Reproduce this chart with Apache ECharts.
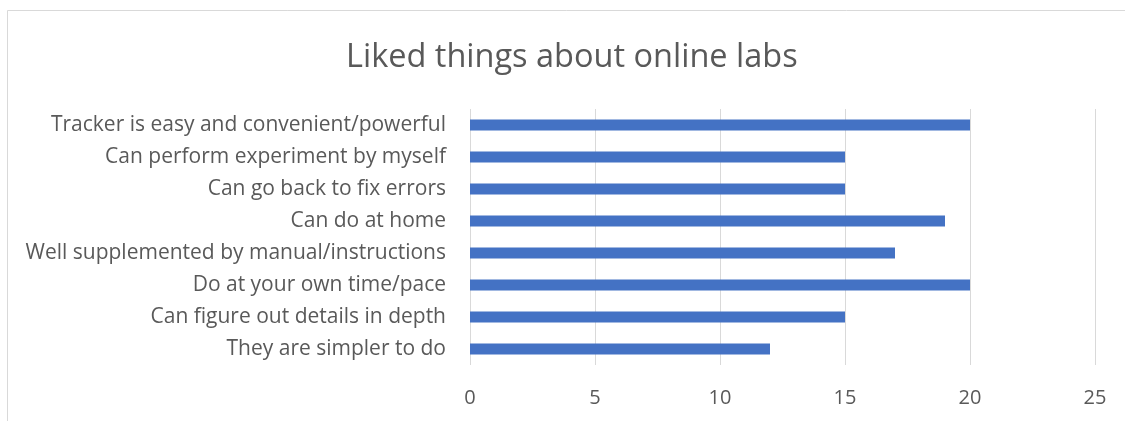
<!DOCTYPE html>
<html><head><meta charset="utf-8">
<script src="https://cdn.jsdelivr.net/npm/echarts@6/dist/echarts.min.js"></script>
<style>html,body{margin:0;padding:0;background:#fff}#c{width:1125px;height:421px}</style>
</head><body><div id="c"></div>
<script>
const categories = [
  "Tracker is easy and convenient/powerful",
  "Can perform experiment by myself",
  "Can go back to fix errors",
  "Can do at home",
  "Well supplemented by manual/instructions",
  "Do at your own time/pace",
  "Can figure out details in depth",
  "They are simpler to do"
];
const values = [20, 15, 15, 19, 17, 20, 15, 12];
const xTicks = [0, 5, 10, 15, 20, 25];
const font = "Open Sans";
const chart = echarts.init(document.getElementById('c'), null, {renderer: 'canvas'});
chart.setOption({
  animation: false,
  backgroundColor: '#fff',
  graphic: [{type: 'rect', shape: {x: 7.5, y: 10.5, width: 1300, height: 600}, style: {fill: 'none', stroke: '#D9D9D9', lineWidth: 1}, silent: true}],
  title: {text: 'Liked things about online labs', left: 341, top: 36,
    textStyle: {fontFamily: font, fontSize: 32.5, fontWeight: 'normal', color: '#595959'}},
  grid: {left: 470, right: 30, top: 109, bottom: 56, containLabel: false},
  xAxis: {type: 'value', min: 0, max: 25, interval: 5,
    axisLine: {show: false}, axisTick: {show: false},
    splitLine: {lineStyle: {color: '#D9D9D9', width: 1}},
    axisLabel: {fontFamily: font, fontSize: 20, color: '#595959', margin: 23,
      formatter: v => xTicks.includes(v) ? String(v) : ''}},
  yAxis: {type: 'category', inverse: true, data: categories,
    axisLine: {show: false}, axisTick: {show: false},
    axisLabel: {fontFamily: font, fontSize: 21, color: '#595959', margin: 24}},
  series: [{type: 'bar', data: values, barWidth: 11, itemStyle: {color: '#4472C4'}}]
});
</script></body></html>
